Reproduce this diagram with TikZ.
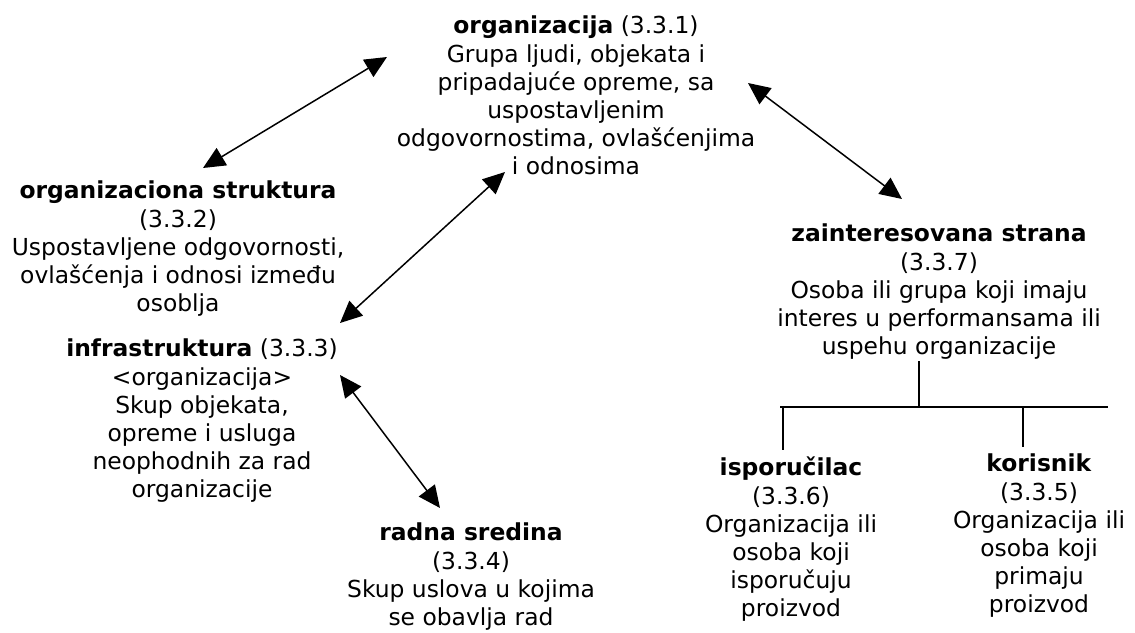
\documentclass[tikz,border=0pt]{standalone}
\usepackage{fontspec}
\setmainfont{DejaVu Sans}
\usetikzlibrary{arrows.meta}

\begin{document}
\begin{tikzpicture}[x=1pt, y=-1pt,
  term/.style={anchor=north, align=center, inner sep=0pt,
    font=\fontsize{23.4}{28.2}\selectfont},
  biarrow/.style={{Triangle[length=22pt,width=20pt]}-{Triangle[length=22pt,width=20pt]}, line width=1.5pt},
  treeline/.style={line width=1.5pt}]
\useasboundingbox (0,0) rectangle (1135,632);
\node[term] (org) at (576,16) {\textbf{organizacija} (3.3.1)\\Grupa ljudi, objekata i\\pripadajuće opreme, sa\\uspostavljenim\\odgovornostima, ovlašćenjima\\i odnosima};
\node[term] (struktura) at (178,181) {\textbf{organizaciona struktura}\\(3.3.2)\\Uspostavljene odgovornosti,\\ovlašćenja i odnosi između\\osoblja};
\node[term] (infra) at (202,339) {\textbf{infrastruktura} (3.3.3)\\<organizacija>\\Skup objekata,\\opreme i usluga\\neophodnih za rad\\organizacije};
\node[term] (sredina) at (471,523) {\textbf{radna sredina}\\(3.3.4)\\Skup uslova u kojima\\se obavlja rad};
\node[term] (strana) at (939,224) {\textbf{zainteresovana strana}\\(3.3.7)\\Osoba ili grupa koji imaju\\interes u performansama ili\\uspehu organizacije};
\node[term] (isporucilac) at (791,457) {\textbf{isporučilac}\\(3.3.6)\\Organizacija ili\\osoba koji\\isporučuju\\proizvod};
\node[term] (korisnik) at (1039,454) {\textbf{korisnik}\\(3.3.5)\\Organizacija ili\\osoba koji\\primaju\\proizvod};
\coordinate (org-s) at (387,57);
\coordinate (s-org) at (203,168);
\coordinate (org-i) at (505,172);
\coordinate (i-org) at (340,323);
\coordinate (org-z) at (748,83);
\coordinate (z-org) at (902,199);
\coordinate (i-r) at (340,375);
\coordinate (r-i) at (440,508);
\draw[biarrow] (s-org) -- (org-s);
\draw[biarrow] (i-org) -- (org-i);
\draw[biarrow] (org-z) -- (z-org);
\draw[biarrow] (i-r) -- (r-i);
\coordinate (stem) at (919,361);
\coordinate (bar-l) at (780,407);
\coordinate (bar-r) at (1108,407);
\coordinate (drop-i) at (783,450);
\coordinate (drop-k) at (1023,447);
\draw[treeline] (stem) -- (stem |- bar-l);
\draw[treeline] (bar-l) -- (bar-r);
\draw[treeline] (drop-i |- bar-l) -- (drop-i);
\draw[treeline] (drop-k |- bar-l) -- (drop-k);
\end{tikzpicture}
\end{document}
